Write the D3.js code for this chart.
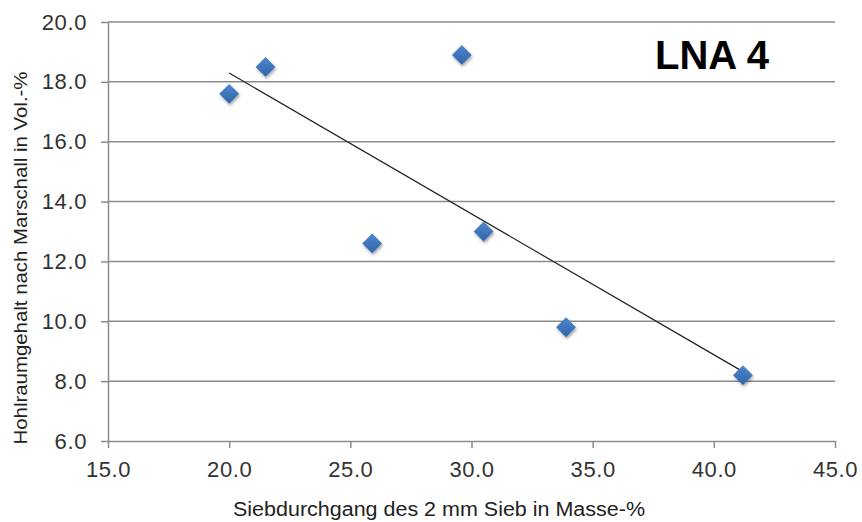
<!DOCTYPE html>
<html>
<head>
<meta charset="utf-8">
<script src="https://cdn.jsdelivr.net/npm/d3@7"></script>
<style>
  body { margin: 0; background: #fff; }
  svg { font-family: "Liberation Sans", Arial, sans-serif; }
</style>
</head>
<body>
<div id="chart"></div>
<script>
// data
const siebdurchgang = [20.0, 21.5, 29.6, 25.9, 30.5, 33.9, 41.2];
const hohlraum = [17.6, 18.5, 18.9, 12.6, 13.0, 9.8, 8.2];
const xTicks = [15, 20, 25, 30, 35, 40, 45];
const yTicks = [6, 8, 10, 12, 14, 16, 18, 20];

const svgWidth = 862;
const svgHeight = 522;
const margin = { top: 22, right: 27, bottom: 81, left: 108 };
const width = svgWidth - margin.left - margin.right;
const height = svgHeight - margin.top - margin.bottom;

const svg = d3.select("#chart")
  .append("svg")
  .attr("width", svgWidth)
  .attr("height", svgHeight);

// soft shadow for the markers
const defs = svg.append("defs");
const shadow = defs.append("filter").attr("id", "shadow")
  .attr("x", "-50%").attr("y", "-50%").attr("width", "200%").attr("height", "200%");
shadow.append("feDropShadow")
  .attr("dx", 1).attr("dy", 2).attr("stdDeviation", 1.6)
  .attr("flood-color", "#000").attr("flood-opacity", 0.35);
const grad = defs.append("linearGradient").attr("id", "blue")
  .attr("x1", 0).attr("y1", 0).attr("x2", 0).attr("y2", 1);
grad.append("stop").attr("offset", "0%").attr("stop-color", "#4f86cc");
grad.append("stop").attr("offset", "100%").attr("stop-color", "#2f65ac");

const chartGroup = svg.append("g")
  .attr("transform", `translate(${margin.left}, ${margin.top})`);

const x = d3.scaleLinear().domain([15, 45]).range([0, width]);
const y = d3.scaleLinear().domain([6, 20]).range([height, 0]);

// horizontal grid lines
chartGroup.append("g")
  .selectAll("line")
  .data(yTicks.filter(d => d > 6))
  .enter()
  .append("line")
  .attr("x1", 0)
  .attr("x2", width)
  .attr("y1", d => y(d))
  .attr("y2", d => y(d))
  .attr("stroke", "#8c8c8c")
  .attr("stroke-width", 1.5);

// axes
const bottomAxis = d3.axisBottom(x).tickValues(xTicks).tickFormat(d3.format(".1f")).tickSize(7).tickSizeOuter(0);
const leftAxis = d3.axisLeft(y).tickValues(yTicks).tickFormat(d3.format(".1f")).tickSize(7).tickSizeOuter(0);

const xAxis = chartGroup.append("g")
  .attr("transform", `translate(0, ${height})`)
  .call(bottomAxis);
const yAxis = chartGroup.append("g")
  .call(leftAxis);

[xAxis, yAxis].forEach(a => {
  a.select(".domain").attr("stroke", "#8c8c8c").attr("stroke-width", 1.5);
  a.selectAll(".tick line").attr("stroke", "#8c8c8c").attr("stroke-width", 1.5);
  a.selectAll(".tick text")
    .attr("fill", "#333")
    .style("font-size", "22px")
    .style("letter-spacing", "0.6px")
    .style("font-family", "'Liberation Sans', Arial, sans-serif");
});
xAxis.selectAll(".tick text").attr("dy", "0.71em").attr("y", 20);
yAxis.selectAll(".tick text").attr("x", -21);

// linear trend line
const n = siebdurchgang.length;
const mx = d3.mean(siebdurchgang);
const my = d3.mean(hohlraum);
let sxy = 0, sxx = 0;
for (let i = 0; i < n; i++) {
  sxy += (siebdurchgang[i] - mx) * (hohlraum[i] - my);
  sxx += (siebdurchgang[i] - mx) ** 2;
}
const slope = sxy / sxx;
const icpt = my - slope * mx;
const xExt = d3.extent(siebdurchgang);

chartGroup.append("line")
  .attr("x1", x(xExt[0]))
  .attr("y1", y(icpt + slope * xExt[0]))
  .attr("x2", x(xExt[1]))
  .attr("y2", y(icpt + slope * xExt[1]))
  .attr("stroke", "#222")
  .attr("stroke-width", 1.2);

// diamond markers
const points = siebdurchgang.map((v, i) => ({ x: v, y: hohlraum[i] }));
chartGroup.selectAll(".pt")
  .data(points)
  .enter()
  .append("path")
  .attr("class", "pt")
  .attr("d", d3.symbol().type(d3.symbolDiamond2).size(250))
  .attr("transform", d => `translate(${x(d.x)}, ${y(d.y)})`)
  .attr("fill", "url(#blue)")
  .attr("filter", "url(#shadow)");

// label
svg.append("text")
  .attr("x", 655)
  .attr("y", 69)
  .style("font-size", "40px")
  .style("font-weight", "bold")
  .attr("fill", "#000")
  .text("LNA 4");

// axis titles
svg.append("text")
  .attr("x", 439)
  .attr("y", 516)
  .attr("text-anchor", "middle")
  .attr("textLength", 412)
  .attr("lengthAdjust", "spacingAndGlyphs")
  .style("font-size", "20px")
  .attr("fill", "#222")
  .text("Siebdurchgang des 2 mm Sieb in Masse-%");

svg.append("text")
  .attr("transform", `translate(27, ${258}) rotate(-90)`)
  .attr("text-anchor", "middle")
  .attr("textLength", 373)
  .attr("lengthAdjust", "spacingAndGlyphs")
  .style("font-size", "18px")
  .attr("fill", "#222")
  .text("Hohlraumgehalt nach Marschall in Vol.-%");
</script>
</body>
</html>
